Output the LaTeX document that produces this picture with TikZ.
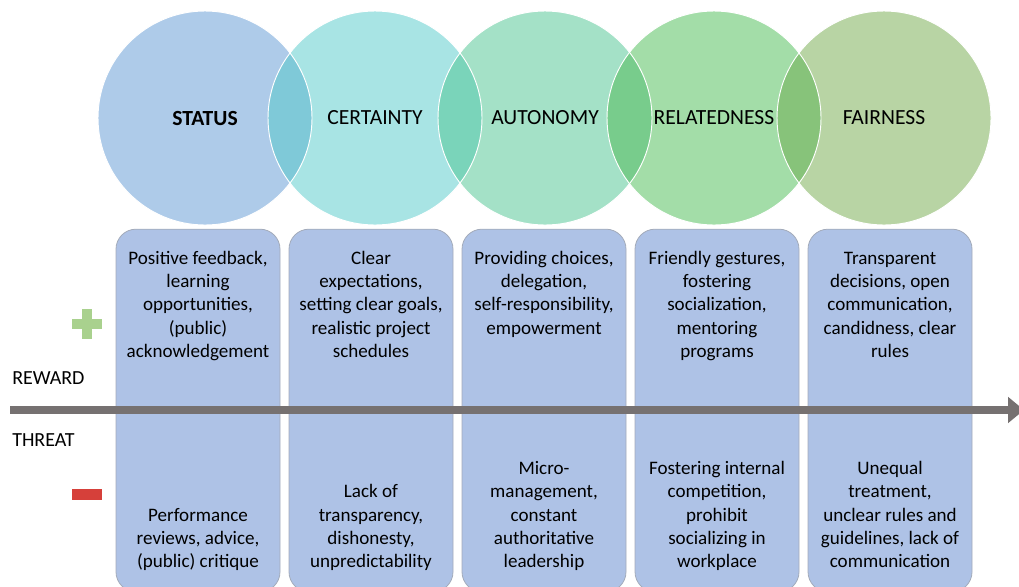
\documentclass[tikz,border=0pt]{standalone}
\usepackage{fontspec}
\setmainfont{Carlito}
\usetikzlibrary{arrows.meta}
\definecolor{cA}{HTML}{AECBE9}
\definecolor{cB}{HTML}{A8E4E4}
\definecolor{cC}{HTML}{A4E1C7}
\definecolor{cD}{HTML}{A3DDA8}
\definecolor{cE}{HTML}{B8D4A4}
\definecolor{oAB}{HTML}{7FC9D8}
\definecolor{oBC}{HTML}{7AD4BA}
\definecolor{oCD}{HTML}{78CC8C}
\definecolor{oDE}{HTML}{87C37A}
\definecolor{boxfill}{HTML}{AEC2E6}
\definecolor{boxline}{HTML}{A3ABBA}
\definecolor{arrowgray}{HTML}{767171}
\definecolor{plusgreen}{HTML}{A9D18E}
\definecolor{minusred}{HTML}{D6403A}
\newcommand\boxfont{\fontsize{14.3}{17.5}\selectfont}
\newcommand\circfont{\fontsize{16.2}{19.5}\selectfont}
\newcommand\sidefont{\fontsize{15}{18}\selectfont}
\tikzset{
  ring/.style={circle, minimum size=160.5pt, inner sep=0pt, draw=white, line width=0.7pt, font=\circfont},
  colbox/.style={rectangle, rounded corners=15pt, minimum width=123pt, minimum height=272pt, inner sep=0pt, fill=boxfill, draw=boxline, line width=0.6pt},
  toptext/.style={anchor=north, inner sep=0pt, align=center, font=\boxfont},
  bottext/.style={anchor=south, inner sep=0pt, align=center, font=\boxfont},
  sidelabel/.style={anchor=west, inner sep=0pt, font=\sidefont},
  axis/.style={draw=arrowgray, line width=6pt, -{Triangle[length=12pt, width=19pt]}}
}
\begin{document}
\begin{tikzpicture}[x=0.75pt, y=-0.75pt]
\useasboundingbox (0,0) rectangle (1019,586);
% circles
\fill[cA] (205,118) circle (107);
\fill[cB] (375,118) circle (107);
\fill[cC] (545,118) circle (107);
\fill[cD] (714,118) circle (107);
\fill[cE] (884,118) circle (107);
\begin{scope}\clip (205,118) circle (107); \fill[oAB] (375,118) circle (107);\end{scope}
\begin{scope}\clip (375,118) circle (107); \fill[oBC] (545,118) circle (107);\end{scope}
\begin{scope}\clip (545,118) circle (107); \fill[oCD] (714,118) circle (107);\end{scope}
\begin{scope}\clip (714,118) circle (107); \fill[oDE] (884,118) circle (107);\end{scope}
\node[ring] (status) at (205,118) {\textbf{STATUS}};
\node[ring] (certainty) at (375,118) {CERTAINTY};
\node[ring] (autonomy) at (545,118) {AUTONOMY};
\node[ring] (relatedness) at (714,118) {RELATEDNESS};
\node[ring] (fairness) at (884,118) {FAIRNESS};
% boxes
\node[colbox] (b1) at (198,410.5) {};
\node[colbox] (b2) at (371,410.5) {};
\node[colbox] (b3) at (544,410.5) {};
\node[colbox] (b4) at (717,410.5) {};
\node[colbox] (b5) at (890,410.5) {};
% reward texts
\node[toptext] (r1) at (198,247.5) {\strut Positive feedback,\\learning\\opportunities,\\(public)\\acknowledgement};
\node[toptext] (r2) at (371,247.5) {\strut Clear\\expectations,\\setting clear goals,\\realistic project\\schedules};
\node[toptext] (r3) at (544,247.5) {\strut Providing choices,\\delegation,\\self-responsibility,\\empowerment};
\node[toptext] (r4) at (717,247.5) {\strut Friendly gestures,\\fostering\\socialization,\\mentoring\\programs};
\node[toptext] (r5) at (890,247.5) {\strut Transparent\\decisions, open\\communication,\\candidness, clear\\rules};
% threat texts
\node[bottext] (t1) at (198,575) {Performance\\reviews, advice,\\(public) critique\strut};
\node[bottext] (t2) at (371,575) {Lack of\\transparency,\\dishonesty,\\unpredictability\strut};
\node[bottext] (t3) at (544,575) {Micro-\\management,\\constant\\authoritative\\leadership\strut};
\node[bottext] (t4) at (717,575) {Fostering internal\\competition,\\prohibit\\socializing in\\workplace\strut};
\node[bottext] (t5) at (890,575) {Unequal\\treatment,\\unclear rules and\\guidelines, lack of\\communication\strut};
% axis
\coordinate (axstart) at (10,410);
\coordinate (axend) at (1024,410);
\draw[axis] (axstart) -- (axend);
% side labels
\node[sidelabel] (reward) at (12,378) {REWARD};
\node[sidelabel] (threat) at (12,440) {THREAT};
% plus and minus
\fill[plusgreen] (82,309) rectangle (92,339);
\fill[plusgreen] (72,319) rectangle (102,329);
\fill[minusred] (72,489) rectangle (102,500);
\end{tikzpicture}
\end{document}
